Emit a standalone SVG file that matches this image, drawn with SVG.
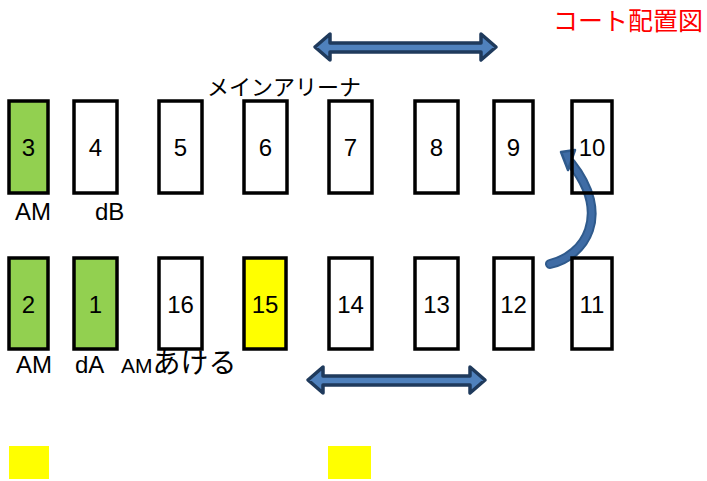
<svg xmlns="http://www.w3.org/2000/svg" width="707" height="481" viewBox="0 0 707 481">
<style>
.box{stroke:#000;stroke-width:3.5}
.w{fill:#fff}.g{fill:#92D050}.y{fill:#FFFF00}
.num{font-family:"Liberation Sans",Arial,sans-serif;font-size:24px;text-anchor:middle;fill:#000}
.lbl{font-family:"Liberation Sans","Noto Sans CJK JP",sans-serif;font-size:24px;fill:#000}
.jp{font-family:"Noto Sans CJK JP",sans-serif}
.arr{fill:#4F81BD;stroke:#1F3A5C;stroke-width:3.5;stroke-linejoin:round}
</style>
<rect width="707" height="481" fill="#fff"/>
<text x="553" y="30" font-family="Noto Sans CJK JP,sans-serif" font-size="25" fill="#FF0000">コート配置図</text>
<text x="207" y="95" class="lbl jp" style="font-size:22px">メインアリーナ</text>
<g id="connectors">
<polygon class="arr" points="315,47 330,34 330,43 481,43 481,34 496,47 481,60 481,52 330,52 330,60"/>
<polygon class="arr" points="308,380 323,367 323,376 470,376 470,367 485,380 470,393 470,385 323,385 323,393"/>
<path d="M550,264 C585,256 612,215 571,163" fill="none" stroke="#2F5A8C" stroke-width="10" stroke-linecap="round"/>
<path d="M550,264 C585,256 612,215 571,163" fill="none" stroke="#3F6CA5" stroke-width="6" stroke-linecap="round"/>
<polygon points="561,152 575,150 568,170" fill="#3F6CA5" stroke="#2F5A8C" stroke-width="2.5" stroke-linejoin="round"/>
</g>
<g id="n3"><rect class="box g" x="9" y="101" width="39" height="92"/><text class="num" x="28.5" y="156">3</text></g>
<g id="n4"><rect class="box w" x="74" y="101" width="43" height="92"/><text class="num" x="95.5" y="156">4</text></g>
<g id="n5"><rect class="box w" x="159" y="101" width="43" height="92"/><text class="num" x="180.5" y="156">5</text></g>
<g id="n6"><rect class="box w" x="244" y="101" width="43" height="92"/><text class="num" x="265.5" y="156">6</text></g>
<g id="n7"><rect class="box w" x="329" y="101" width="43" height="92"/><text class="num" x="350.5" y="156">7</text></g>
<g id="n8"><rect class="box w" x="415" y="101" width="43" height="92"/><text class="num" x="436.5" y="156">8</text></g>
<g id="n9"><rect class="box w" x="494" y="101" width="39" height="92"/><text class="num" x="513.5" y="156">9</text></g>
<g id="n10"><rect class="box w" x="572" y="101" width="40" height="92" fill-opacity="0"/><text class="num" x="592" y="156">10</text></g>
<g id="n2"><rect class="box g" x="9" y="258" width="39" height="91"/><text class="num" x="28.5" y="313">2</text></g>
<g id="n1"><rect class="box g" x="74" y="258" width="43" height="91"/><text class="num" x="95.5" y="313">1</text></g>
<g id="n16"><rect class="box w" x="159" y="258" width="43" height="91"/><text class="num" x="180.5" y="313">16</text></g>
<g id="n15"><rect class="box y" x="244" y="258" width="42" height="91"/><text class="num" x="265" y="313">15</text></g>
<g id="n14"><rect class="box w" x="329" y="258" width="43" height="91"/><text class="num" x="350.5" y="313">14</text></g>
<g id="n13"><rect class="box w" x="415" y="258" width="43" height="91"/><text class="num" x="436.5" y="313">13</text></g>
<g id="n12"><rect class="box w" x="494" y="258" width="39" height="91"/><text class="num" x="513.5" y="313">12</text></g>
<g id="n11"><rect class="box w" x="572" y="258" width="40" height="91"/><text class="num" x="592" y="313">11</text></g>
<g id="labels">
<text class="lbl" x="15" y="220">AM</text>
<text class="lbl" x="95" y="220">dB</text>
<text class="lbl" x="16" y="373">AM</text>
<text class="lbl" x="75" y="373">dA</text>
<text class="lbl" x="121" y="373" style="font-size:21px">AM<tspan class="jp" style="font-size:28px">あける</tspan></text>
</g>
<rect x="9" y="446" width="40" height="33" fill="#FFFF00"/>
<rect x="328" y="446" width="43" height="33" fill="#FFFF00"/>
</svg>
